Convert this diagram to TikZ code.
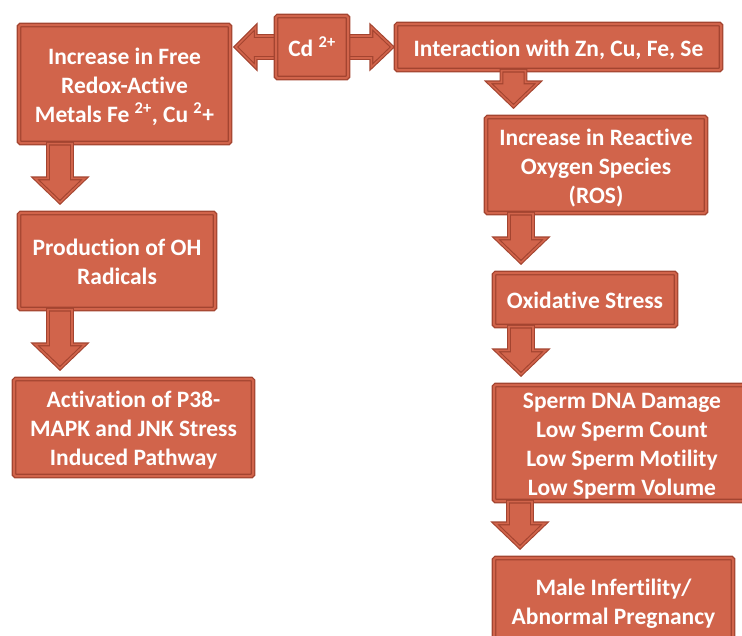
\documentclass[tikz,border=0pt]{standalone}
\usepackage{fontspec}
\setmainfont{Carlito}[Ligatures=NoCommon]
\usetikzlibrary{calc,backgrounds}
\definecolor{cdfill}{RGB}{209,100,75}
\definecolor{cdedge}{RGB}{163,68,48}
% centred lines, set a little lower in the box
\newcommand\boxlines[1]{\raisebox{-3.3pt}[\height][\depth]{\begin{tabular}{@{}c@{}}#1\end{tabular}}}
% block arrow going down from one box to the next, at a given x
\newcommand\downblk[3]{%
  \draw[blkarrow] let \p1=(#1.south), \p2=(#2.north) in
    (#3pt-12pt,\y1) -- (#3pt+12pt,\y1) -- (#3pt+12pt,\y2+34pt) -- (#3pt+25pt,\y2+34pt)
    -- (#3pt,\y2+10pt) -- (#3pt-25pt,\y2+34pt) -- (#3pt-12pt,\y2+34pt) -- cycle;}
\begin{document}
\begin{tikzpicture}[x=1pt, y=-1pt,
  box/.style={rectangle, draw=cdedge, fill=cdfill, double=cdfill, double distance=2pt,
    line width=1.3pt, rounded corners=1.5pt, text=white, inner sep=0pt,
    font=\bfseries\fontsize{23.5}{29}\selectfont},
  blkarrow/.style={draw=cdedge, fill=cdfill, double=cdfill, double distance=1.6pt,
    line width=1.1pt, line join=miter}] % {{{
\useasboundingbox (0,0) rectangle (742,635);
% left column {{{
\node[box, minimum width=211pt, minimum height=118pt] (incr) at (124.5,84)
  {\boxlines{Increase in Free\\Redox-Active\\Metals Fe \textsuperscript{2+}, Cu \textsuperscript{2}+}};
\node[box, minimum width=196pt, minimum height=96pt] (prod) at (117,261)
  {\boxlines{Production of OH\\Radicals}};
\node[box, minimum width=239pt, minimum height=97pt] (activ) at (133.5,427.5)
  {\boxlines{Activation of P38-\\MAPK and JNK Stress\\Induced Pathway}};
% }}}
% right column {{{
\node[box, minimum width=325pt, minimum height=46pt] (inter) at (558.5,47)
  {\boxlines{Interaction with Zn, Cu, Fe, Se}};
\node[box, minimum width=220pt, minimum height=96pt] (ros) at (596,165)
  {\boxlines{Increase in Reactive\\Oxygen Species\\(ROS)}};
\node[box, minimum width=182pt, minimum height=53pt] (oxid) at (585,299.5)
  {\boxlines{Oxidative Stress}};
\node[box, minimum width=256pt, minimum height=114pt] (sperm) at (622,443)
  {\boxlines{Sperm DNA Damage\\Low Sperm Count\\Low Sperm Motility\\Low Sperm Volume}};
\node[box, minimum width=239pt, minimum height=86pt] (male) at (613.5,601)
  {\boxlines{Male Infertility/\\Abnormal Pregnancy}};
% }}}
\node[box, minimum width=72pt, minimum height=62pt] (cd) at (312,47)
  {\boxlines{Cd \textsuperscript{2+}}};
% double arrow behind Cd {{{
\begin{pgfonlayer}{background}
\draw[blkarrow] let \p1=(incr.east), \p2=(inter.west), \p3=(cd.center) in
  (\x1+5pt,\y3) -- (\x1+25pt,\y3+20pt) -- (\x1+25pt,\y3+11pt) -- (\x2-24pt,\y3+11pt)
  -- (\x2-24pt,\y3+20pt) -- (\x2-3pt,\y3) -- (\x2-24pt,\y3-20pt) -- (\x2-24pt,\y3-11pt)
  -- (\x1+25pt,\y3-11pt) -- (\x1+25pt,\y3-20pt) -- cycle;
\end{pgfonlayer}
% }}}
% down arrows {{{
\downblk{incr}{prod}{60}
\downblk{prod}{activ}{60}
\downblk{inter}{ros}{513.5}
\downblk{ros}{oxid}{521}
\downblk{oxid}{sperm}{521}
\downblk{sperm}{male}{520}
% }}}
\end{tikzpicture}
\end{document}
